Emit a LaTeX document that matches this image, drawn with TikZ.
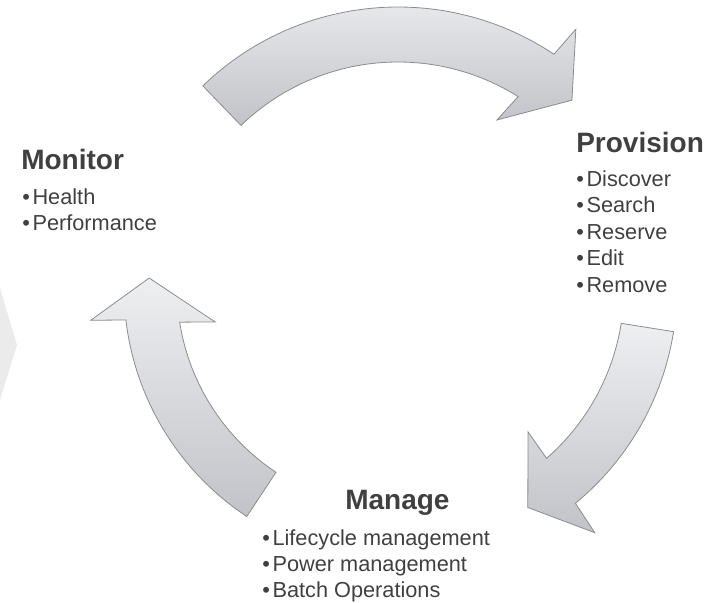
\documentclass[tikz,border=0pt]{standalone}
\usepackage{fontspec}
\setmainfont{Liberation Sans}
\definecolor{textgray}{RGB}{64,64,64}
\definecolor{arrowline}{RGB}{140,140,140}
\definecolor{arrowlight}{RGB}{237,239,241}
\definecolor{arrowdark}{RGB}{193,195,200}
\definecolor{chevrongray}{RGB}{235,235,235}
\tikzset{
    cyclearrow/.style={draw=arrowline, line width=0.6pt, line join=miter,
        top color=arrowlight, bottom color=arrowdark},
    heading/.style={anchor=base west, inner sep=0pt, text=textgray,
        font=\bfseries\fontsize{21}{25}\selectfont},
    item/.style={anchor=base west, inner sep=0pt, text=textgray,
        font=\fontsize{16.3}{19}\selectfont},
}
\newcommand{\itembullet}{\textbullet\hspace{2pt}}

\begin{document}
\begin{tikzpicture}[x=0.75pt, y=-0.75pt]
    \useasboundingbox (0,0) rectangle (726,603);

    % Chevron at the left edge
    \fill[chevrongray] (0,288) -- (17,345) -- (0,400) -- cycle;

    % Arrows, all round the same centre
    \begin{scope}[shift={(398,288)}]
        % top
        \draw[cyclearrow] (-134:281) arc[start angle=-134, end angle=-56.3, radius=281]
            -- (-55.5:314) -- (-47.2:256) -- (-59.5:195) -- (-57.9:226)
            arc[start angle=-57.9, end angle=-134, radius=226] -- cycle;
        % right
        \draw[cyclearrow] (9:279) arc[start angle=9, end angle=50.5, radius=279]
            -- (51.2:314) -- (59.4:255) -- (47.9:194) -- (48.9:226)
            arc[start angle=48.9, end angle=9, radius=226] -- cycle;
        % left
        \draw[cyclearrow] (123.5:274) arc[start angle=123.5, end angle=173.3, radius=274]
            -- (174:309) -- (182.3:249) -- (169.5:186) -- (171.1:221)
            arc[start angle=171.1, end angle=123.5, radius=221] -- cycle;
    \end{scope}

    % Labels
        %Monitor
        \node[heading] (monitor) at (21,169) {Monitor};
        \foreach \txt [count=\i] in {Health, Performance}
            \node[item] (monitor-\i) at (22,{204+26*(\i-1)}) {\itembullet\txt};

        %Provision
        \node[heading] (provision) at (576,152) {Provision};
        \foreach \txt [count=\i] in {Discover, Search, Reserve, Edit, Remove}
            \node[item] (provision-\i) at (576,{186+26.5*(\i-1)}) {\itembullet\txt};

        %Manage
        \node[heading] (manage) at (345,509) {Manage};
        \foreach \txt [count=\i] in {Lifecycle management, Power management, Batch Operations}
            \node[item] (manage-\i) at (262,{545+26*(\i-1)}) {\itembullet\txt};
\end{tikzpicture}
\end{document}
